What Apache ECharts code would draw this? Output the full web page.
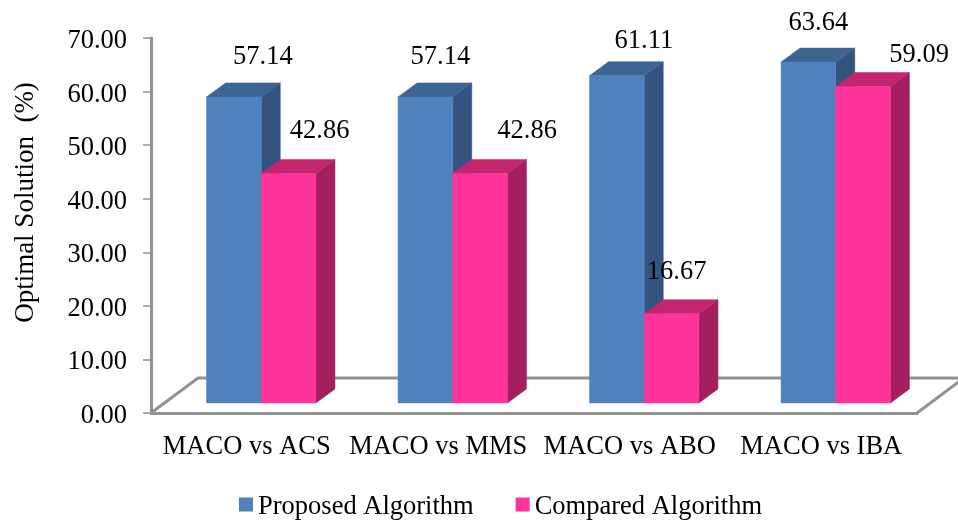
<!DOCTYPE html>
<html>
<head>
<meta charset="utf-8">
<style>html,body{margin:0;padding:0;background:#fff;overflow:hidden}#chart{width:958px;height:521px}</style>
<script src="https://cdn.jsdelivr.net/npm/echarts@6/dist/echarts.min.js"></script>
</head>
<body>
<div id="chart"></div>
<script>
const categories = ['MACO vs ACS', 'MACO vs MMS', 'MACO vs ABO', 'MACO vs IBA'];
const proposedValues = [57.14, 57.14, 61.11, 63.64];
const comparedValues = [42.86, 42.86, 16.67, 59.09];

const FONT = '"Liberation Serif", "Times New Roman", serif';
const AXIS_GREY = '#929292';

// Oblique projection of the chart's 3D box, in pixels.
const FLOOR_DX = 47, FLOOR_DY = 35;
const BAR_LIFT_X = 14.5, BAR_LIFT_Y = 10;
const BAR_DX = 19, BAR_DY = 14;
const BAR_BAND_SHARE = 0.2856;

// Hand-placed value labels: [dx from bar centre, dy from top of the front face].
const proposedLabelNudge = [[29, -40], [15, -40], [27, -35], [10, -39]];
const comparedLabelNudge = [[31, -42], [47, -42], [5, -42], [56, -31]];

// A 14px square sitting at the top of a 20px symbol box, so it rides above the text's centre line.
const LEGEND_ICON = 'path://M0,0 H14 V14 H0 Z M0,20 L14,20';

function poly(points, fill) {
  return { type: 'polygon', shape: { points }, style: { fill, stroke: fill, lineWidth: 0.5 } };
}

// Front, top and side faces of one bar, plus its value label.
function barRenderer(side, front, top, shade, nudge) {
  return function (params, api) {
    const i = api.value(0);
    const band = api.size([1, 0])[0];
    const w = band * BAR_BAND_SHARE;
    const centre = api.coord([i, 0]);
    const yTop = api.coord([i, api.value(1)])[1] - BAR_LIFT_Y;
    const yBase = centre[1] - BAR_LIFT_Y;
    const x0 = centre[0] + BAR_LIFT_X + (side < 0 ? -w : 0);
    const x1 = x0 + w;
    return {
      type: 'group',
      children: [
        poly([[x1, yTop], [x1 + BAR_DX, yTop - BAR_DY], [x1 + BAR_DX, yBase - BAR_DY], [x1, yBase]], shade),
        poly([[x0, yTop], [x0 + BAR_DX, yTop - BAR_DY], [x1 + BAR_DX, yTop - BAR_DY], [x1, yTop]], top),
        poly([[x0, yTop], [x1, yTop], [x1, yBase], [x0, yBase]], front),
        {
          type: 'text',
          style: {
            text: api.value(1).toFixed(2),
            x: (x0 + x1) / 2 + nudge[i][0],
            y: yTop + nudge[i][1],
            align: 'center',
            verticalAlign: 'middle',
            fill: '#000',
            font: '26.5px ' + FONT
          }
        }
      ]
    };
  };
}

// The floor of the box, drawn behind the bars.
function floorRenderer(params, api) {
  const box = params.coordSys;
  const y0 = api.coord([0, 0])[1];
  const x0 = box.x, x1 = box.x + box.width;
  return {
    type: 'polyline',
    shape: { points: [[x0, y0], [x0 + FLOOR_DX, y0 - FLOOR_DY], [x1 + FLOOR_DX, y0 - FLOOR_DY], [x1, y0]] },
    style: { fill: null, stroke: AXIS_GREY, lineWidth: 3 }
  };
}

const chart = echarts.init(document.getElementById('chart'), null, { renderer: 'canvas' });
chart.setOption({
  backgroundColor: '#fff',
  animation: false,
  textStyle: { fontFamily: FONT },
  grid: { left: 151, top: 38, width: 766, height: 375, outerBoundsMode: 'none' },
  legend: {
    data: ['Proposed Algorithm', 'Compared Algorithm'],
    left: 234,
    top: 489,
    itemWidth: 14,
    itemHeight: 20,
    itemGap: 42,
    icon: LEGEND_ICON,
    textStyle: { fontFamily: FONT, fontSize: 26.5, color: '#000' }
  },
  xAxis: {
    type: 'category',
    data: categories,
    axisLine: { lineStyle: { color: AXIS_GREY, width: 3 } },
    axisTick: { length: 8, lineStyle: { color: AXIS_GREY, width: 1.5 } },
    axisLabel: { color: '#000', fontFamily: FONT, fontSize: 26.5, margin: 21, interval: 0 }
  },
  yAxis: {
    type: 'value',
    min: 0,
    max: 70,
    interval: 10,
    name: 'Optimal Solution  (%)',
    nameLocation: 'middle',
    nameGap: 112,
    nameTextStyle: { color: '#000', fontFamily: FONT, fontSize: 27, padding: [0, 0, 0, 46] },
    splitLine: { show: false },
    axisLine: { show: true, lineStyle: { color: AXIS_GREY, width: 3 } },
    axisTick: { show: true, length: 8, lineStyle: { color: AXIS_GREY, width: 1.5 } },
    axisLabel: { color: '#000', fontFamily: FONT, fontSize: 26.5, margin: 24, verticalAlign: 'top', lineHeight: 6, formatter: v => v.toFixed(2) }
  },
  series: [
    {
      type: 'custom',
      name: 'floor',
      renderItem: floorRenderer,
      data: [[0, 0]],
      clip: false,
      z: 1,
      silent: true
    },
    {
      type: 'custom',
      name: 'Proposed Algorithm',
      renderItem: barRenderer(-1, '#4f81bd', '#3d6592', '#335380', proposedLabelNudge),
      data: proposedValues.map((v, i) => [i, v]),
      encode: { x: 0, y: 1 },
      itemStyle: { color: '#4f81bd' },
      z: 2
    },
    {
      type: 'custom',
      name: 'Compared Algorithm',
      renderItem: barRenderer(1, '#ff3399', '#c2266f', '#a31f60', comparedLabelNudge),
      data: comparedValues.map((v, i) => [i, v]),
      encode: { x: 0, y: 1 },
      itemStyle: { color: '#ff3399' },
      z: 3
    }
  ]
});
</script>
</body>
</html>
